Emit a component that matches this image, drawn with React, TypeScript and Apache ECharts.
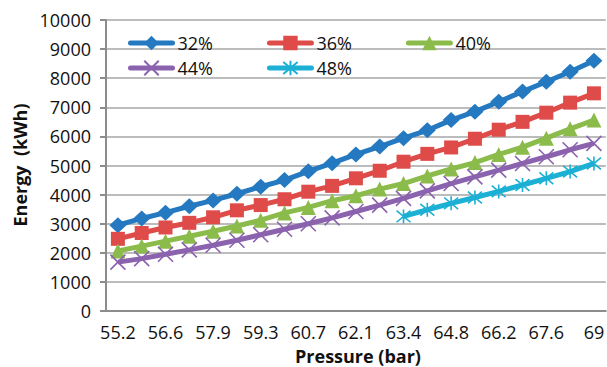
import React, { useEffect, useRef } from "react";
import * as echarts from "echarts";

// Pressure categories (bar); every other one is labelled on the axis
const pressures = [
  "55.2", "55.9", "56.6", "57.2", "57.9", "58.6", "59.3", "60.0", "60.7", "61.4",
  "62.1", "62.7", "63.4", "64.1", "64.8", "65.5", "66.2", "66.9", "67.6", "68.3", "69",
];

// Energy (kWh) per pressure for each percentage
const energy32 = [2950, 3180, 3380, 3600, 3800, 4030, 4270, 4500, 4800, 5080, 5380, 5650, 5940, 6210, 6560, 6850, 7190, 7540, 7880, 8220, 8600];
const energy36 = [2480, 2680, 2870, 3030, 3220, 3460, 3640, 3840, 4100, 4300, 4560, 4820, 5130, 5400, 5620, 5920, 6230, 6500, 6815, 7160, 7480];
const energy40 = [2060, 2230, 2400, 2570, 2740, 2920, 3120, 3370, 3560, 3790, 3960, 4190, 4380, 4640, 4880, 5100, 5380, 5630, 5940, 6260, 6560];
const energy44 = [1680, 1800, 1950, 2100, 2260, 2430, 2620, 2810, 3000, 3200, 3420, 3640, 3870, 4130, 4380, 4610, 4840, 5070, 5300, 5540, 5760];
const energy48 = [null, null, null, null, null, null, null, null, null, null, null, null, 3250, 3480, 3700, 3900, 4110, 4330, 4560, 4790, 5070];

const seriesNames = ["32%", "36%", "40%", "44%", "48%"];

const yTicks = { min: 0, max: 10000, interval: 1000 };

const FONT = "'Open Sans', 'Noto Sans', sans-serif";

const CROSS = "path://M0 0 L10 10 M10 0 L0 10";
const STAR = "path://M0 0 L10 10 M10 0 L0 10 M5 -1 L5 11";

export default function App() {
  const ref = useRef<HTMLDivElement>(null);

  useEffect(() => {
    if (!ref.current) return;
    const chart = echarts.init(ref.current, undefined, { renderer: "svg" });

    const colors = ["#2479C0", "#DE4B48", "#8BBC4B", "#8B62AE", "#1BB0D4"];
    const values = [energy32, energy36, energy40, energy44, energy48];
    const symbols: any[] = ["diamond", "rect", "triangle", CROSS, STAR];
    const sizes: any[] = [[17, 16], 14, 15, 15, 14];

    const series = values.map((data, i) => {
      const lineOnly = i >= 3;
      return {
        name: seriesNames[i],
        type: "line",
        data,
        symbol: symbols[i],
        symbolSize: sizes[i],
        showAllSymbol: true,
        connectNulls: false,
        lineStyle: { color: colors[i], width: 5 },
        itemStyle: lineOnly
          ? { color: "rgba(0,0,0,0)", borderColor: colors[i], borderWidth: 1.6 }
          : { color: colors[i], borderColor: colors[i], borderWidth: 0 },
        emphasis: { disabled: true },
      };
    });

    const legendCommon = {
      left: 123,
      orient: "horizontal" as const,
      itemWidth: 42,
      itemHeight: 18,
      itemGap: 54,
      selectedMode: false,
      lineStyle: { width: 5, cap: "round" },
      textStyle: { fontFamily: FONT, fontSize: 18, color: "#111" },
    };

    chart.setOption({
      animation: false,
      color: colors,
      grid: { left: 106, top: 20, bottom: 56, right: -8, containLabel: false },
      legend: [
        { ...legendCommon, top: 29, data: seriesNames.slice(0, 3) },
        { ...legendCommon, top: 54, data: seriesNames.slice(3) },
      ],
      xAxis: {
        type: "category",
        data: pressures,
        boundaryGap: true,
        axisLine: { lineStyle: { color: "#8C8C8C", width: 2 } },
        axisTick: { show: false },
        axisLabel: {
          interval: 1,
          margin: 12,
          fontFamily: FONT,
          fontSize: 18,
          color: "#111",
        },
        splitLine: { show: false },
      },
      yAxis: {
        type: "value",
        min: yTicks.min,
        max: yTicks.max,
        interval: yTicks.interval,
        axisLine: { show: true, lineStyle: { color: "#8C8C8C", width: 2 } },
        axisTick: { show: true, length: 6, lineStyle: { color: "#8C8C8C", width: 2 } },
        axisLabel: {
          margin: 15,
          fontFamily: FONT,
          fontSize: 18,
          color: "#111",
          formatter: (v: number) => String(v),
        },
        splitLine: { lineStyle: { color: "#A6A6A6", width: 1.5 } },
      },
      graphic: [
        {
          type: "text",
          x: 20,
          y: 165,
          rotation: Math.PI / 2,
          style: {
            text: "Energy  (kWh)",
            font: `bold 18px ${FONT}`,
            fill: "#111",
            align: "center",
            verticalAlign: "middle",
          },
        },
        {
          type: "text",
          x: 358,
          y: 356,
          style: {
            text: "Pressure (bar)",
            font: `bold 18px ${FONT}`,
            fill: "#111",
            align: "center",
            verticalAlign: "middle",
          },
        },
      ],
      series,
    });

    return () => chart.dispose();
  }, []);

  return (
    <div
      ref={ref}
      style={{ position: "absolute", left: 0, top: 0, width: 607, height: 367, background: "#fff" }}
    />
  );
}
